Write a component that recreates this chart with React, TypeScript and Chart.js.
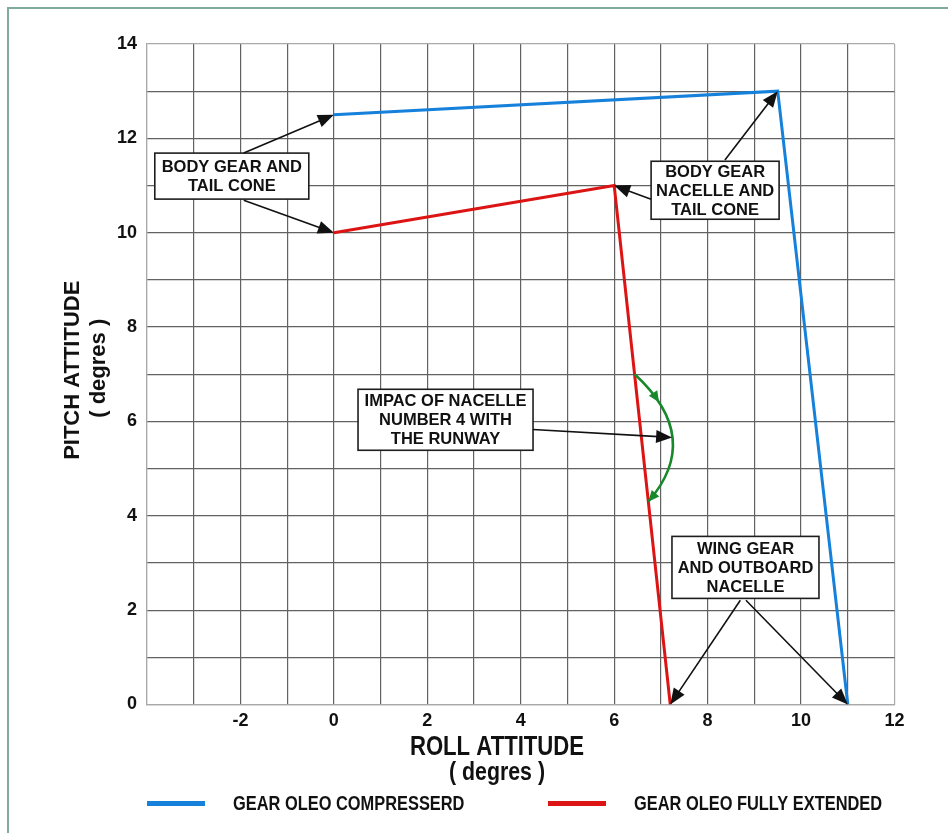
import { useEffect, useRef } from "react";
import { Chart, registerables } from "chart.js";

Chart.register(...registerables);

// ---- data ----
const compressedRoll = [0, 9.5, 11];
const compressedPitch = [12.5, 13, 0];
const extendedRoll = [0, 6, 7.2];
const extendedPitch = [10, 11, 0];
const seriesLabels = ["GEAR OLEO COMPRESSERD", "GEAR OLEO FULLY EXTENDED"];
const seriesColors = ["#1681db", "#dc1414"];
const rollTicks = [-2, 0, 2, 4, 6, 8, 10, 12];
const pitchTicks = [0, 2, 4, 6, 8, 10, 12, 14];
const xTitle = ["ROLL ATTITUDE", "( degres )"];
const yTitle = ["PITCH ATTITUDE", "( degres )"];

// ---- annotations (data coordinates) ----
const calloutLines = [
  ["BODY GEAR AND", "TAIL CONE"],
  ["BODY GEAR", "NACELLE AND", "TAIL CONE"],
  ["IMPAC OF NACELLE", "NUMBER 4 WITH", "THE RUNWAY"],
  ["WING GEAR", "AND OUTBOARD", "NACELLE"],
];
const calloutCenters = [
  [-2.185, 11.2],
  [8.16, 10.9],
  [2.39, 6.035],
  [8.81, 2.906],
];
const calloutSizes = [
  [154, 46],
  [128, 58],
  [175, 61],
  [147, 62],
];
const pointerFrom = [
  [-1.93, 11.69],
  [-1.93, 10.69],
  [8.37, 11.54],
  [6.79, 10.71],
  [4.26, 5.83],
  [8.7, 2.21],
  [8.82, 2.21],
];
const pointerTo = [
  [0, 12.5],
  [0, 10],
  [9.5, 13],
  [6, 11],
  [7.24, 5.66],
  [7.2, 0],
  [11, 0],
];
const arcStart = [6.44, 7];
const arcApex = [7.25, 5.65];
const arcEnd = [6.73, 4.3];

const SANS = "'Liberation Sans', Arial, sans-serif";
const NARROW_SCALE = 0.82;

function drawHead(
  ctx: CanvasRenderingContext2D, x1: number, y1: number, ux: number, uy: number,
  color: string, headLen: number, headHalf: number
) {
  const bx = x1 - ux * headLen, by = y1 - uy * headLen;
  ctx.fillStyle = color;
  ctx.beginPath();
  ctx.moveTo(x1, y1);
  ctx.lineTo(bx - uy * headHalf, by + ux * headHalf);
  ctx.lineTo(bx + uy * headHalf, by - ux * headHalf);
  ctx.closePath();
  ctx.fill();
}

function drawArrow(
  ctx: CanvasRenderingContext2D,
  x0: number, y0: number, x1: number, y1: number,
  color: string, lw: number, headLen: number, headHalf: number
) {
  const dx = x1 - x0, dy = y1 - y0;
  const L = Math.hypot(dx, dy) || 1;
  const ux = dx / L, uy = dy / L;
  const bx = x1 - ux * headLen, by = y1 - uy * headLen;
  ctx.strokeStyle = color;
  ctx.lineWidth = lw;
  ctx.beginPath();
  ctx.moveTo(x0, y0);
  ctx.lineTo(bx + ux * 2, by + uy * 2);
  ctx.stroke();
  drawHead(ctx, x1, y1, ux, uy, color, headLen, headHalf);
}

function narrowText(
  ctx: CanvasRenderingContext2D, text: string, x: number, y: number,
  size: number, align: CanvasTextAlign
) {
  ctx.save();
  ctx.translate(x, y);
  ctx.scale(NARROW_SCALE, 1);
  ctx.font = `bold ${size}px ${SANS}`;
  ctx.textAlign = align;
  ctx.textBaseline = "middle";
  ctx.fillText(text, 0, 0);
  ctx.restore();
}

const overlayPlugin = {
  id: "overlay",
  afterDatasetsDraw(chart: any) {
    const { ctx, scales } = chart;
    const xs = scales.x, ys = scales.y;
    const px = (v: number) => xs.getPixelForValue(v);
    const py = (v: number) => ys.getPixelForValue(v);
    ctx.save();

    // green impact arc
    const P0 = [px(arcStart[0]), py(arcStart[1])];
    const M = [px(arcApex[0]), py(arcApex[1])];
    const P2 = [px(arcEnd[0]), py(arcEnd[1])];
    const C = [2 * M[0] - (P0[0] + P2[0]) / 2, 2 * M[1] - (P0[1] + P2[1]) / 2];
    const green = "#18892b";
    ctx.strokeStyle = green;
    ctx.lineWidth = 2.5;
    ctx.beginPath();
    ctx.moveTo(P0[0], P0[1]);
    ctx.quadraticCurveTo(C[0], C[1], P2[0], P2[1]);
    ctx.stroke();
    const bez = (t: number) => [
      (1 - t) * (1 - t) * P0[0] + 2 * (1 - t) * t * C[0] + t * t * P2[0],
      (1 - t) * (1 - t) * P0[1] + 2 * (1 - t) * t * C[1] + t * t * P2[1],
    ];
    const der = (t: number) => {
      const d = [
        2 * (1 - t) * (C[0] - P0[0]) + 2 * t * (P2[0] - C[0]),
        2 * (1 - t) * (C[1] - P0[1]) + 2 * t * (P2[1] - C[1]),
      ];
      const l = Math.hypot(d[0], d[1]) || 1;
      return [d[0] / l, d[1] / l];
    };
    const h1 = bez(0.22), d1 = der(0.22);
    drawHead(ctx, h1[0], h1[1], d1[0], d1[1], green, 11, 5);
    const d2 = der(1);
    drawHead(ctx, P2[0], P2[1], d2[0], d2[1], green, 11, 5);

    // callout boxes
    calloutLines.forEach((lines, i) => {
      const cx = px(calloutCenters[i][0]);
      const cy = py(calloutCenters[i][1]);
      const [w, h] = calloutSizes[i];
      ctx.fillStyle = "#ffffff";
      ctx.fillRect(cx - w / 2, cy - h / 2, w, h);
      ctx.strokeStyle = "#1e1e1e";
      ctx.lineWidth = 1.6;
      ctx.strokeRect(cx - w / 2, cy - h / 2, w, h);
      ctx.fillStyle = "#111111";
      ctx.font = `bold 16.5px ${SANS}`;
      ctx.textAlign = "center";
      ctx.textBaseline = "middle";
      const lh = 19;
      lines.forEach((t, j) => {
        ctx.fillText(t, cx, cy + (j - (lines.length - 1) / 2) * lh + 1);
      });
    });

    // pointer arrows
    pointerFrom.forEach((f, i) => {
      const t = pointerTo[i];
      drawArrow(ctx, px(f[0]), py(f[1]), px(t[0]), py(t[1]), "#111111", 1.6, 16, 6.5);
    });

    ctx.restore();
  },
  afterDraw(chart: any) {
    const { ctx, chartArea } = chart;
    ctx.save();
    ctx.fillStyle = "#111111";
    ctx.textAlign = "center";
    ctx.textBaseline = "middle";

    // y title
    const cyMid = (chartArea.top + chartArea.bottom) / 2 - 4;
    ctx.save();
    ctx.translate(chartArea.left - 74, cyMid);
    ctx.rotate(-Math.PI / 2);
    ctx.font = `bold 22px ${SANS}`;
    ctx.fillText(yTitle[0], 0, 0);
    ctx.restore();
    ctx.save();
    ctx.translate(chartArea.left - 48, cyMid - 2);
    ctx.rotate(-Math.PI / 2);
    ctx.font = `bold 22px ${SANS}`;
    ctx.fillText(yTitle[1], 0, 0);
    ctx.restore();

    // x title
    const xc = chartArea.left + 350;
    ctx.fillStyle = "#111111";
    narrowText(ctx, xTitle[0], xc, chartArea.bottom + 43, 27, "center");
    narrowText(ctx, xTitle[1], xc, chartArea.bottom + 68, 26, "center");

    // legend
    const ly = chartArea.bottom + 99;
    const starts = [chartArea.left, chartArea.left + 401];
    chart.data.datasets.forEach((ds: any, i: number) => {
      const x0 = starts[i];
      ctx.strokeStyle = ds.borderColor;
      ctx.lineWidth = 5;
      ctx.beginPath();
      ctx.moveTo(x0, ly);
      ctx.lineTo(x0 + 58, ly);
      ctx.stroke();
      ctx.fillStyle = "#111111";
      narrowText(ctx, ds.label, x0 + 86, ly + 1, 20, "left");
    });
    ctx.restore();
  },
};

const gridColor = (edgeA: number, edgeB: number) => (c: any) =>
  c.tick && (c.tick.value === edgeA || c.tick.value === edgeB) ? "#a9a9a9" : "#626262";

export default function App() {
  const ref = useRef<HTMLCanvasElement>(null);

  useEffect(() => {
    if (!ref.current) return;
    const chart = new Chart(ref.current, {
      type: "scatter",
      data: {
        datasets: [
          {
            label: seriesLabels[0],
            data: compressedRoll.map((x, i) => ({ x, y: compressedPitch[i] })),
            showLine: true,
            borderColor: seriesColors[0],
            backgroundColor: seriesColors[0],
            borderWidth: 3,
            pointRadius: 0,
            tension: 0,
          },
          {
            label: seriesLabels[1],
            data: extendedRoll.map((x, i) => ({ x, y: extendedPitch[i] })),
            showLine: true,
            borderColor: seriesColors[1],
            backgroundColor: seriesColors[1],
            borderWidth: 3,
            pointRadius: 0,
            tension: 0,
          },
        ],
      },
      options: {
        responsive: false,
        animation: false,
        layout: { padding: { left: 0, top: 44, right: 53.5, bottom: 98.5 } },
        plugins: {
          legend: { display: false },
          tooltip: { enabled: false },
        },
        scales: {
          x: {
            type: "linear",
            min: -4,
            max: 12,
            afterFit: (s: any) => {
              s.height = 30;
            },
            ticks: {
              stepSize: 1,
              autoSkip: false,
              maxRotation: 0,
              padding: 6,
              color: "#111111",
              font: { family: SANS, size: 18, weight: "bold" },
              callback: (v: any) => (rollTicks.includes(Number(v)) ? String(v) : ""),
            },
            grid: { color: gridColor(-4, 12), lineWidth: 1.2, drawTicks: false },
            border: { color: "#a9a9a9", width: 1.2 },
          },
          y: {
            type: "linear",
            min: 0,
            max: 14,
            afterFit: (s: any) => {
              s.width = 147;
            },
            ticks: {
              stepSize: 1,
              autoSkip: false,
              padding: 10,
              color: "#111111",
              font: { family: SANS, size: 18, weight: "bold" },
              callback: (v: any) => (pitchTicks.includes(Number(v)) ? String(v) : ""),
            },
            grid: { color: gridColor(0, 14), lineWidth: 1.2, drawTicks: false },
            border: { color: "#a9a9a9", width: 1.2 },
          },
        },
      } as any,
      plugins: [overlayPlugin],
    });
    return () => chart.destroy();
  }, []);

  return (
    <div
      style={{
        position: "fixed",
        left: 0,
        top: 0,
        width: 948,
        height: 833,
        background: "#ffffff",
        overflow: "hidden",
      }}
    >
      <div
        style={{
          position: "absolute",
          left: 7,
          top: 7,
          width: 1000,
          height: 1000,
          borderLeft: "2px solid #7eab9c",
          borderTop: "2px solid #7eab9c",
        }}
      />
      <canvas
        ref={ref}
        width={948}
        height={833}
        style={{ position: "absolute", left: 0, top: 0, width: 948, height: 833 }}
      />
    </div>
  );
}
